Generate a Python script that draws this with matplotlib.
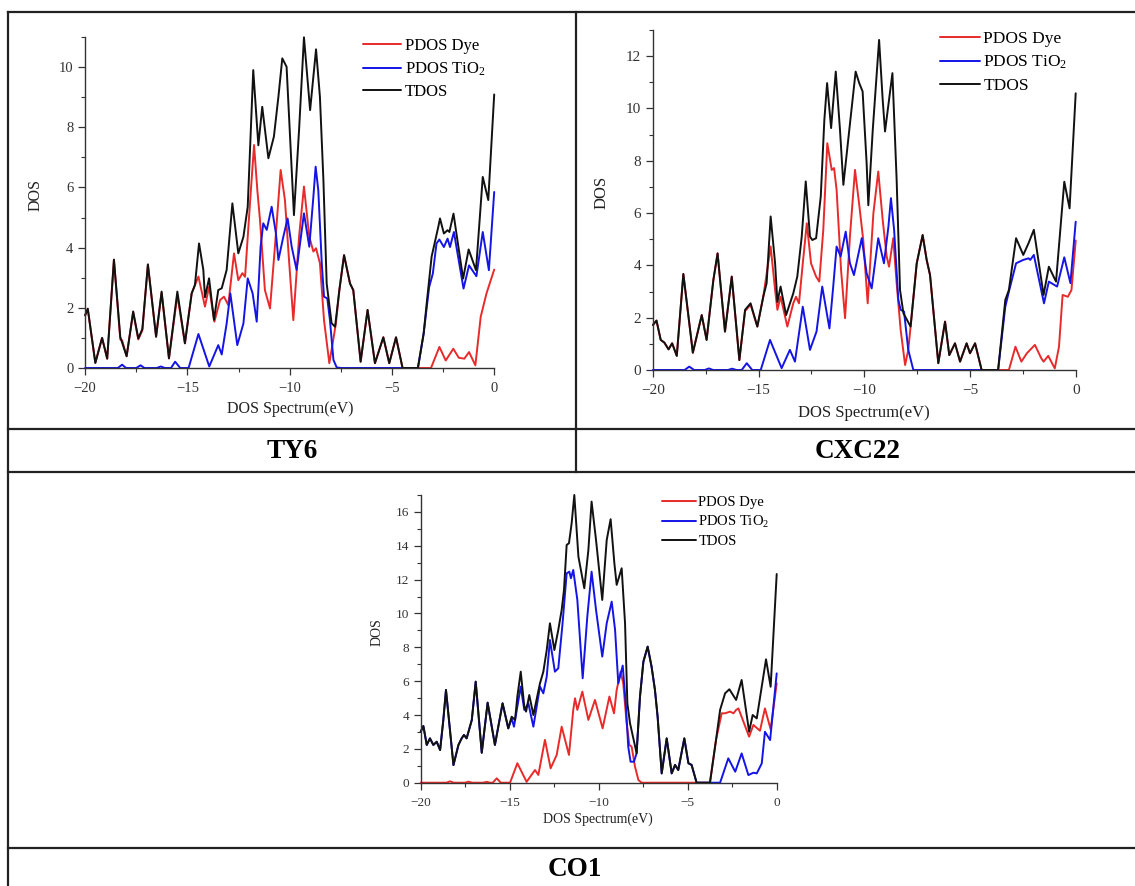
import numpy as np
import matplotlib.pyplot as plt
from matplotlib.lines import Line2D

plt.rcParams['font.family'] = ['Liberation Serif', 'DejaVu Serif']
plt.rcParams['mathtext.default'] = 'regular'

# --- données : (énergie eV, DOS) ---
ty6_tdos = [(-20, 1.75), (-19.87, 1.97), (-19.5, 0.17), (-19.17, 1.0), (-18.92, 0.31), (-18.59, 3.6),
            (-18.28, 1.03), (-17.97, 0.39), (-17.65, 1.88), (-17.4, 0.98), (-17.2, 1.3), (-16.93, 3.44),
            (-16.53, 1.04), (-16.26, 2.54), (-15.9, 0.32), (-15.49, 2.54), (-15.12, 0.82), (-14.79, 2.48),
            (-14.63, 2.76), (-14.43, 4.14), (-14.22, 3.26), (-14.14, 2.35), (-13.94, 2.98), (-13.7, 1.6),
            (-13.49, 2.59), (-13.32, 2.65), (-13.08, 3.26), (-12.8, 5.47), (-12.51, 3.81), (-12.26, 4.36),
            (-12.05, 5.36), (-11.78, 9.9), (-11.53, 7.4), (-11.34, 8.68), (-11.04, 6.97), (-10.77, 7.69),
            (-10.55, 9.01), (-10.36, 10.29), (-10.15, 10.01), (-9.79, 5.08), (-9.54, 7.91), (-9.3, 10.99),
            (-9.0, 8.57), (-8.71, 10.59), (-8.52, 9.01), (-8.35, 6.25), (-8.19, 2.81), (-7.95, 1.49),
            (-7.78, 1.37), (-7.57, 2.59), (-7.34, 3.75), (-7.05, 2.81), (-6.89, 2.59), (-6.53, 0.21),
            (-6.19, 1.93), (-5.83, 0.16), (-5.42, 1.02), (-5.13, 0.16), (-4.8, 1.02), (-4.48, 0.0),
            (-3.73, 0.0), (-3.45, 1.14), (-3.3, 2.15), (-3.06, 3.7), (-2.73, 4.7), (-2.65, 4.97),
            (-2.46, 4.47), (-2.28, 4.58), (-2.19, 4.52), (-1.99, 5.13), (-1.52, 2.97), (-1.25, 3.94),
            (-0.89, 3.25), (-0.56, 6.35), (-0.29, 5.58), (0, 9.09)]
ty6_dye = [(-20, 1.75), (-19.87, 1.97), (-19.5, 0.17), (-19.17, 1.0), (-18.92, 0.31), (-18.59, 3.6),
           (-18.28, 0.95), (-18.19, 0.92), (-17.97, 0.39), (-17.65, 1.85), (-17.4, 0.95), (-17.2, 1.25),
           (-16.93, 3.44), (-16.53, 1.04), (-16.26, 2.5), (-15.9, 0.32), (-15.49, 2.42), (-15.12, 0.82),
           (-14.79, 2.48), (-14.46, 3.04), (-14.14, 2.04), (-13.94, 2.7), (-13.68, 1.54), (-13.4, 2.26),
           (-13.21, 2.37), (-13.0, 2.09), (-12.72, 3.81), (-12.51, 2.92), (-12.31, 3.15), (-12.18, 3.03),
           (-11.94, 5.47), (-11.74, 7.41), (-11.58, 5.91), (-11.45, 4.92), (-11.21, 2.59), (-10.96, 1.98),
           (-10.72, 4.03), (-10.44, 6.58), (-10.23, 5.58), (-10.02, 3.48), (-9.82, 1.59), (-9.54, 4.36),
           (-9.3, 6.03), (-9.04, 4.36), (-8.84, 3.87), (-8.71, 3.98), (-8.52, 3.48), (-8.32, 1.59),
           (-8.06, 0.16), (-7.87, 0.93), (-7.74, 1.48), (-7.57, 2.59), (-7.34, 3.75), (-7.05, 2.81),
           (-6.89, 2.59), (-6.53, 0.21), (-6.19, 1.93), (-5.83, 0.16), (-5.42, 1.02), (-5.13, 0.16),
           (-4.8, 1.02), (-4.48, 0), (-3.09, 0), (-2.68, 0.7), (-2.37, 0.25), (-2.0, 0.64), (-1.73, 0.34),
           (-1.46, 0.31), (-1.23, 0.53), (-0.92, 0.09), (-0.66, 1.7), (-0.38, 2.47), (0, 3.27)]
ty6_tio2 = [(-20, 0), (-18.4, 0), (-18.19, 0.11), (-18.0, 0), (-17.5, 0), (-17.29, 0.09), (-17.1, 0),
            (-16.5, 0), (-16.3, 0.05), (-16.1, 0), (-15.8, 0), (-15.6, 0.21), (-15.35, 0), (-14.94, 0),
            (-14.46, 1.13), (-13.93, 0.05), (-13.49, 0.76), (-13.32, 0.45), (-13.08, 1.48), (-12.9, 2.48),
            (-12.56, 0.76), (-12.26, 1.48), (-12.05, 2.98), (-11.81, 2.48), (-11.61, 1.54), (-11.42, 4.03),
            (-11.29, 4.81), (-11.12, 4.59), (-10.88, 5.36), (-10.67, 4.47), (-10.55, 3.59), (-10.31, 4.36),
            (-10.1, 4.97), (-9.9, 4.03), (-9.66, 3.26), (-9.3, 5.14), (-9.04, 4.03), (-8.84, 5.69),
            (-8.73, 6.69), (-8.6, 5.91), (-8.43, 3.48), (-8.32, 2.37), (-8.16, 2.31), (-8.03, 1.59),
            (-7.86, 0.27), (-7.7, 0.02), (-7.5, 0), (-3.73, 0), (-3.45, 1.14), (-3.18, 2.69), (-3.0, 3.14),
            (-2.82, 4.14), (-2.68, 4.27), (-2.46, 4.02), (-2.28, 4.3), (-2.16, 4.02), (-1.97, 4.52),
            (-1.5, 2.64), (-1.23, 3.41), (-0.87, 3.05), (-0.56, 4.52), (-0.26, 3.25), (0, 5.85)]

cxc22_tdos = [(-20, 1.72), (-19.83, 1.89), (-19.63, 1.15), (-19.46, 1.05), (-19.26, 0.79), (-19.09, 1.02),
              (-18.87, 0.54), (-18.56, 3.67), (-18.11, 0.66), (-17.69, 2.1), (-17.46, 1.15), (-17.14, 3.44),
              (-16.94, 4.46), (-16.59, 1.47), (-16.27, 3.57), (-15.91, 0.38), (-15.64, 2.3), (-15.38, 2.55),
              (-15.06, 1.66), (-14.78, 2.8), (-14.62, 3.32), (-14.43, 5.87), (-14.22, 4.08), (-14.11, 2.6),
              (-13.96, 3.19), (-13.7, 2.1), (-13.36, 2.93), (-13.17, 3.57), (-12.96, 5.1), (-12.77, 7.21),
              (-12.57, 5.1), (-12.46, 4.97), (-12.28, 5.04), (-12.06, 6.63), (-11.89, 9.56), (-11.76, 10.97),
              (-11.57, 9.25), (-11.35, 11.41), (-11.15, 9.18), (-10.99, 7.08), (-10.71, 9.18), (-10.41, 11.41),
              (-10.24, 10.97), (-10.08, 10.65), (-9.89, 7.91), (-9.81, 6.3), (-9.6, 9.18), (-9.3, 12.62),
              (-9.13, 10.33), (-9.02, 9.12), (-8.67, 11.35), (-8.47, 7.27), (-8.31, 3.06), (-8.15, 2.17),
              (-7.81, 1.66), (-7.52, 4.08), (-7.24, 5.16), (-7.05, 4.21), (-6.89, 3.63), (-6.5, 0.26),
              (-6.18, 1.85), (-5.98, 0.57), (-5.71, 1.02), (-5.47, 0.32), (-5.16, 1.02), (-5.0, 0.64),
              (-4.76, 1.02), (-4.45, 0), (-3.67, 0), (-3.33, 2.68), (-3.16, 3.06), (-2.82, 5.04), (-2.48, 4.4),
              (-2.23, 4.85), (-1.98, 5.36), (-1.52, 2.87), (-1.27, 3.95), (-0.93, 3.38), (-0.54, 7.2),
              (-0.29, 6.18), (0, 10.58)]
cxc22_dye = [(-20, 1.72), (-19.83, 1.89), (-19.63, 1.15), (-19.46, 1.05), (-19.26, 0.79), (-19.09, 1.02),
             (-18.87, 0.54), (-18.56, 3.67), (-18.11, 0.66), (-17.69, 2.1), (-17.46, 1.15), (-17.14, 3.44),
             (-16.94, 4.46), (-16.59, 1.47), (-16.27, 3.57), (-15.91, 0.38), (-15.64, 2.25), (-15.38, 2.5),
             (-15.06, 1.66), (-14.78, 2.8), (-14.43, 4.72), (-14.22, 3.06), (-14.11, 2.3), (-13.96, 2.8),
             (-13.64, 1.66), (-13.36, 2.55), (-13.23, 2.8), (-13.09, 2.55), (-12.91, 4.08), (-12.72, 5.61),
             (-12.52, 4.08), (-12.28, 3.57), (-12.13, 3.38), (-11.94, 5.36), (-11.75, 8.67), (-11.54, 7.65),
             (-11.43, 7.72), (-11.31, 6.89), (-11.1, 3.83), (-10.91, 1.98), (-10.68, 5.1), (-10.44, 7.65),
             (-10.23, 6.25), (-10.05, 4.97), (-9.84, 2.55), (-9.57, 5.99), (-9.34, 7.59), (-9.13, 5.74),
             (-8.94, 4.34), (-8.83, 3.95), (-8.63, 5.04), (-8.47, 3.32), (-8.28, 1.53), (-8.07, 0.19),
             (-7.92, 0.77), (-7.81, 1.66), (-7.52, 4.08), (-7.24, 5.16), (-7.05, 4.21), (-6.89, 3.63),
             (-6.5, 0.26), (-6.18, 1.85), (-5.98, 0.57), (-5.71, 1.02), (-5.47, 0.32), (-5.16, 1.02),
             (-5.0, 0.64), (-4.76, 1.02), (-4.45, 0), (-3.16, 0), (-2.85, 0.89), (-2.57, 0.32), (-2.31, 0.64),
             (-1.93, 0.96), (-1.63, 0.45), (-1.52, 0.32), (-1.3, 0.54), (-0.99, 0.06), (-0.79, 0.89),
             (-0.62, 2.87), (-0.37, 2.8), (-0.2, 3.06), (0, 4.95)]
cxc22_tio2 = [(-20, 0), (-18.5, 0), (-18.28, 0.13), (-18.05, 0), (-17.55, 0), (-17.35, 0.06), (-17.15, 0),
              (-16.45, 0), (-16.25, 0.05), (-16.05, 0), (-15.8, 0), (-15.56, 0.26), (-15.3, 0), (-14.9, 0),
              (-14.46, 1.15), (-13.91, 0.07), (-13.52, 0.77), (-13.28, 0.32), (-12.91, 2.42), (-12.57, 0.77),
              (-12.26, 1.47), (-11.99, 3.19), (-11.65, 1.59), (-11.47, 3.19), (-11.31, 4.72), (-11.12, 4.34),
              (-10.88, 5.29), (-10.68, 4.08), (-10.49, 3.63), (-10.12, 5.04), (-9.89, 3.7), (-9.65, 3.12),
              (-9.34, 5.04), (-9.07, 4.08), (-8.86, 5.48), (-8.74, 6.57), (-8.59, 5.36), (-8.39, 2.68),
              (-8.28, 2.3), (-8.12, 2.23), (-7.92, 0.77), (-7.68, 0), (-3.67, 0), (-3.33, 2.42), (-3.16, 3.0),
              (-2.82, 4.08), (-2.48, 4.21), (-2.23, 4.27), (-2.15, 4.21), (-1.98, 4.4), (-1.5, 2.55),
              (-1.27, 3.38), (-0.88, 3.19), (-0.54, 4.31), (-0.25, 3.32), (0, 5.67)]

co1_tdos = [(-20, 3.01), (-19.85, 3.35), (-19.66, 2.23), (-19.48, 2.62), (-19.29, 2.23), (-19.1, 2.42),
            (-18.91, 1.93), (-18.73, 3.7), (-18.58, 5.48), (-18.16, 1.04), (-17.88, 2.23), (-17.7, 2.62),
            (-17.57, 2.82), (-17.42, 2.62), (-17.13, 3.7), (-16.91, 5.97), (-16.57, 1.77), (-16.24, 4.73),
            (-15.83, 2.23), (-15.4, 4.69), (-15.08, 3.21), (-14.89, 3.9), (-14.7, 3.71), (-14.57, 5.09),
            (-14.38, 6.56), (-14.18, 4.5), (-14.08, 4.2), (-13.9, 5.18), (-13.67, 4.0), (-13.3, 5.87),
            (-13.11, 6.56), (-12.92, 7.84), (-12.74, 9.42), (-12.49, 7.84), (-12.27, 9.03), (-12.08, 10.21),
            (-11.95, 11.39), (-11.8, 14.05), (-11.67, 14.15), (-11.52, 15.33), (-11.37, 17.0), (-11.14, 13.36),
            (-10.81, 11.49), (-10.58, 13.75), (-10.4, 16.61), (-10.15, 14.34), (-9.8, 10.8), (-9.55, 14.34),
            (-9.33, 15.57), (-9.12, 12.97), (-8.99, 11.69), (-8.71, 12.67), (-8.52, 9.42), (-8.39, 4.69),
            (-8.24, 3.51), (-7.87, 1.74), (-7.68, 5.09), (-7.49, 7.15), (-7.25, 8.04), (-7.03, 6.86),
            (-6.84, 5.48), (-6.69, 3.9), (-6.46, 0.55), (-6.18, 2.62), (-5.9, 0.55), (-5.71, 1.05),
            (-5.53, 0.75), (-5.19, 2.62), (-4.96, 1.15), (-4.78, 1.05), (-4.5, 0), (-3.75, 0), (-3.41, 2.52),
            (-3.18, 4.3), (-2.9, 5.28), (-2.66, 5.52), (-2.28, 4.89), (-1.97, 6.07), (-1.55, 3.01),
            (-1.35, 4.0), (-1.12, 3.8), (-0.6, 7.29), (-0.34, 5.67), (0, 12.33)]
co1_dye = [(-20, 0), (-18.55, 0), (-18.35, 0.08), (-18.15, 0), (-17.5, 0), (-17.32, 0.06), (-17.1, 0),
           (-16.5, 0), (-16.29, 0.05), (-16.1, 0), (-15.95, 0), (-15.73, 0.26), (-15.5, 0), (-14.98, 0),
           (-14.57, 1.15), (-14.05, 0.05), (-13.58, 0.75), (-13.39, 0.46), (-13.02, 2.53), (-12.7, 0.85),
           (-12.36, 1.64), (-12.08, 3.31), (-11.67, 1.64), (-11.43, 4.3), (-11.33, 4.99), (-11.2, 4.3),
           (-10.92, 5.38), (-10.58, 3.71), (-10.21, 4.89), (-9.78, 3.21), (-9.4, 5.09), (-9.14, 4.1),
           (-8.99, 5.48), (-8.77, 6.56), (-8.62, 5.87), (-8.43, 3.51), (-8.28, 2.23), (-8.15, 2.13),
           (-7.96, 0.95), (-7.77, 0.16), (-7.59, 0), (-3.75, 0), (-3.41, 2.52), (-3.09, 4.1), (-2.9, 4.1),
           (-2.62, 4.2), (-2.43, 4.1), (-2.28, 4.3), (-2.15, 4.39), (-1.55, 2.72), (-1.31, 3.41),
           (-0.94, 3.07), (-0.66, 4.39), (-0.34, 3.15), (0, 5.87)]
co1_tio2 = [(-20, 3.01), (-19.85, 3.35), (-19.66, 2.23), (-19.48, 2.62), (-19.29, 2.23), (-19.1, 2.42),
            (-18.91, 1.93), (-18.73, 3.7), (-18.58, 5.48), (-18.16, 1.04), (-17.88, 2.23), (-17.7, 2.62),
            (-17.57, 2.82), (-17.42, 2.62), (-17.13, 3.7), (-16.91, 5.97), (-16.57, 1.77), (-16.24, 4.73),
            (-15.83, 2.23), (-15.4, 4.69), (-15.08, 3.21), (-14.89, 3.8), (-14.76, 3.31), (-14.38, 5.68),
            (-14.18, 4.3), (-13.95, 4.69), (-13.67, 3.31), (-13.3, 5.68), (-13.11, 5.28), (-12.92, 6.27),
            (-12.74, 8.43), (-12.46, 6.56), (-12.27, 6.76), (-12.03, 9.42), (-11.8, 12.37), (-11.65, 12.47),
            (-11.56, 12.08), (-11.43, 12.57), (-11.2, 10.8), (-10.9, 6.17), (-10.64, 9.81), (-10.4, 12.47),
            (-10.15, 10.21), (-9.8, 7.45), (-9.55, 9.42), (-9.27, 10.7), (-9.08, 9.03), (-8.9, 5.87),
            (-8.65, 6.92), (-8.47, 4.5), (-8.34, 2.13), (-8.21, 1.24), (-8.02, 1.24), (-7.87, 1.74),
            (-7.68, 5.09), (-7.49, 7.15), (-7.25, 8.04), (-7.03, 6.86), (-6.84, 5.48), (-6.69, 3.9),
            (-6.46, 0.55), (-6.18, 2.62), (-5.9, 0.55), (-5.71, 1.05), (-5.53, 0.75), (-5.19, 2.62),
            (-4.96, 1.15), (-4.78, 1.05), (-4.5, 0), (-3.18, 0), (-2.72, 1.44), (-2.33, 0.65), (-1.97, 1.73),
            (-1.59, 0.45), (-1.31, 0.59), (-1.12, 0.55), (-0.84, 1.14), (-0.66, 3.01), (-0.37, 2.52),
            (0, 6.46)]

noms = ["TY6", "CXC22", "CO1"]
legendes = ["PDOS Dye", "PDOS TiO$_2$", "TDOS"]
couleurs = ["#e82a2a", "#1414e6", "#111111"]

W, H = 1135, 886


def fx(x):
    return x / W


def fy(y):
    return 1 - y / H


def panneau(fig, rect, series, ymax, fs_tick, fs_lab, fs_leg, leg_pos, leg_sp, ylab_pos, xlab_pos):
    """trace un panneau DOS ; rect en pixels (gauche, droite, haut, bas)"""
    g, d, h, b = rect
    ax = fig.add_axes([fx(g), fy(b), (d - g) / W, (b - h) / H])
    for data, lab, c in zip(series, legendes, couleurs):
        xy = np.array(data)
        ax.plot(xy[:, 0], xy[:, 1], color=c, lw=1.4, label=lab, clip_on=False,
                solid_joinstyle="round", solid_capstyle="round")
    ax.set_xlim(-20, 0)
    ax.set_ylim(0, ymax)
    ax.set_xticks([-20, -15, -10, -5, 0])
    ax.set_xticks([-17.5, -12.5, -7.5, -2.5], minor=True)
    ax.set_yticks(np.arange(0, ymax + 0.1, 2))
    ax.set_yticks(np.arange(1, ymax + 0.1, 2), minor=True)
    for s in ["top", "right"]:
        ax.spines[s].set_visible(False)
    for s in ["left", "bottom"]:
        ax.spines[s].set_color("#333333")
        ax.spines[s].set_linewidth(1.0)
    ax.tick_params(which="major", direction="out", length=5, width=0.9, colors="#333333",
                   labelsize=fs_tick, pad=3.5)
    ax.tick_params(which="minor", direction="out", length=3, width=0.8, colors="#333333")
    ax.tick_params(axis="x", which="major", pad=5)
    ax.legend(loc="upper left", bbox_to_anchor=(fx(leg_pos[0]), fy(leg_pos[1])),
              bbox_transform=fig.transFigure, frameon=False, fontsize=fs_leg, borderpad=0,
              borderaxespad=0, handlelength=2.3, handletextpad=0.2, labelspacing=leg_sp)
    fig.text(fx(ylab_pos[0]), fy(ylab_pos[1]), "DOS", rotation=90, ha="center", va="center",
             fontsize=fs_lab, color="#222222")
    fig.text(fx(xlab_pos[0]), fy(xlab_pos[1]), "DOS Spectrum(eV)", ha="center", va="center",
             fontsize=fs_lab, color="#222222")
    return ax


fig = plt.figure(figsize=(W / 100, H / 100), dpi=100)

panneau(fig, (85.1, 494.2, 37, 368), [ty6_dye, ty6_tio2, ty6_tdos], 11, 10.5, 11.5, 12,
        (363, 38), 0.38, (36, 195), (290, 409))
panneau(fig, (652.9, 1075.7, 30, 370), [cxc22_dye, cxc22_tio2, cxc22_tdos], 13, 11, 12, 12.5,
        (940, 30.5), 0.4, (602, 192), (864, 413))
panneau(fig, (420.7, 776.7, 495, 782.7), [co1_dye, co1_tio2, co1_tdos], 17, 9.5, 10, 10.5,
        (662, 496), 0.32, (377, 632), (598, 819))

# cadre du tableau
traits = [((7.5, 1135), (12, 12)), ((7.5, 7.5), (12, 886)), ((576, 576), (12, 471.5)),
          ((7.5, 1135), (429, 429)), ((7.5, 1135), (471.5, 471.5)), ((7.5, 1135), (848, 848))]
for xs, ys in traits:
    fig.add_artist(Line2D([fx(v) for v in xs], [fy(v) for v in ys], color="#222222", lw=1.6))

for nom, (x, y) in zip(noms, [(292, 451), (858, 451), (575, 869)]):
    fig.text(fx(x), fy(y), nom, ha="center", va="center", fontsize=19.5, fontweight="bold")

fig.savefig("out.png", dpi=100, facecolor="white")
